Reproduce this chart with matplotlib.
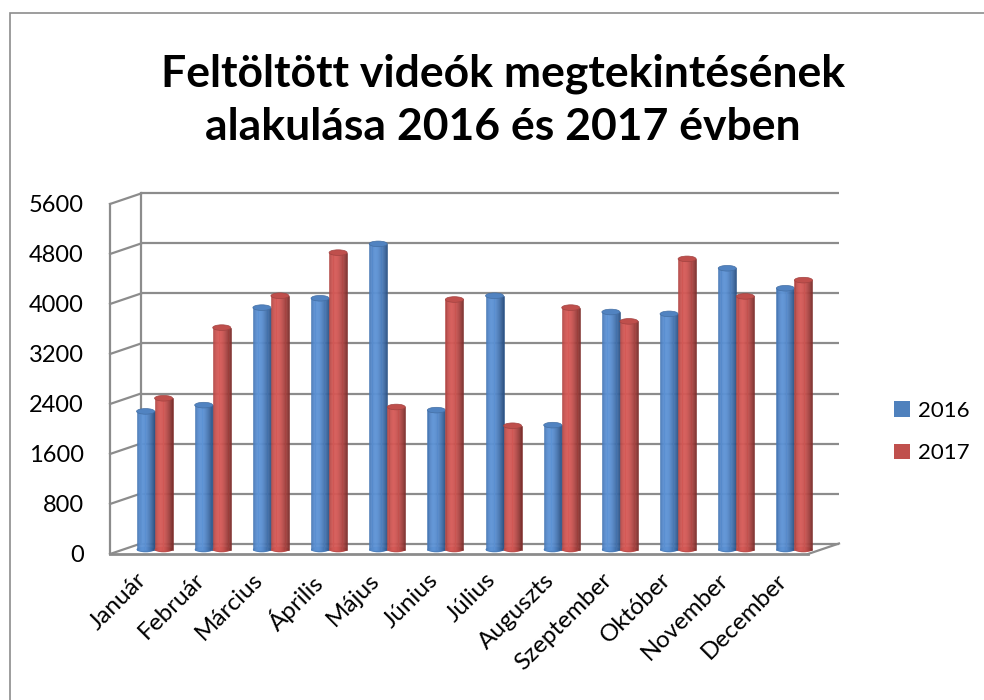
import numpy as np
import matplotlib.pyplot as plt
from matplotlib.patches import Ellipse, Rectangle, Patch
from matplotlib.lines import Line2D
from matplotlib.transforms import ScaledTranslation, IdentityTransform
import matplotlib.colors as mcolors

plt.rcParams['font.family'] = ['Lato', 'DejaVu Sans']

months = ['Január', 'Február', 'Március', 'Április', 'Május', 'Június',
          'Július', 'Auguszts', 'Szeptember', 'Október', 'November', 'December']
y2016 = [2210, 2310, 3870, 4020, 4890, 2230, 4060, 1990, 3800, 3770, 4500, 4180]
y2017 = [2420, 3550, 4060, 4750, 2280, 4000, 1980, 3870, 3650, 4650, 4050, 4310]
series = ['2016', '2017']
yticks = np.arange(0, 5601, 800)

base_cols = ['#4F81BD', '#C0504D']
light_cols = ['#5d93d6', '#d65a57']
dark_cols = ['#2b5183', '#7a2e2c']

fig = plt.figure(figsize=(9.84, 7), dpi=100)
ax = fig.add_axes([110/984, 146/700, 698/984, 350/700])
ax.set_xlim(-0.5, 11.5)
ax.set_ylim(0, 5600)
for s in ax.spines.values():
    s.set_visible(False)
ax.set_yticks(yticks)
ax.set_yticklabels([str(v) for v in yticks])
ax.set_xticks(range(len(months)))
ax.set_xticklabels(months, rotation=45, ha='right', va='top', rotation_mode='anchor')
ax.tick_params(length=0)
ax.tick_params(axis='y', pad=19, labelsize=17)
ax.tick_params(axis='x', pad=11, labelsize=17.5)
for lab in ax.get_xticklabels():
    lab.set_transform(lab.get_transform() + ScaledTranslation(-0.03, 0, fig.dpi_scale_trans))

# fake 3d: back wall and bar plane offsets
back = ax.transData + ScaledTranslation(0.31, 0.105, fig.dpi_scale_trans)
mid = ax.transData + ScaledTranslation(0.155, 0.045, fig.dpi_scale_trans)

grid_c = '#8c8c8c'
def diag(pt):
    p0 = ax.transData.transform(pt)
    p1 = back.transform(pt)
    ax.add_line(Line2D([p0[0], p1[0]], [p0[1], p1[1]], color=grid_c, lw=1.6,
                       transform=IdentityTransform(), clip_on=False, zorder=1))

for v in yticks:
    ax.plot([-0.5, 11.5], [v, v], color=grid_c, lw=1.6, transform=back,
            zorder=1, clip_on=False, solid_capstyle='butt')
    diag((-0.5, v))
ax.plot([-0.5, -0.5], [0, 5600], color=grid_c, lw=1.6, transform=back, zorder=1, clip_on=False)
ax.plot([-0.5, -0.5], [0, 5600], color=grid_c, lw=1.6, zorder=1, clip_on=False)
ax.plot([-0.5, 11.5], [0, 0], color=grid_c, lw=2, zorder=1, clip_on=False)
diag((11.5, 0))

# cylinders
w = 0.31
n = 16
x = np.arange(len(months))
for j, vals in enumerate([y2016, y2017]):
    z = 3 + j
    left = x + (j - 1) * w
    light = np.array(mcolors.to_rgb(light_cols[j]))
    dark = np.array(mcolors.to_rgb(dark_cols[j]))
    for xc, v in zip(left + w / 2, vals):
        ax.add_patch(Ellipse((xc, 0), w, 90, facecolor=base_cols[j], lw=0,
                             transform=mid, zorder=z - 0.1, clip_on=False))
    for k in range(n):
        t = (k + 0.5) / n
        if t < 0.35:
            wt = 1 - 0.45 * ((0.35 - t) / 0.35) ** 2
        else:
            wt = 1 - ((t - 0.35) / 0.65) ** 1.6
        c = dark + (light - dark) * wt
        ax.bar(left + (k + 0.5) * w / n, vals, width=w / n, color=c, edgecolor=c,
               lw=0.4, transform=mid, zorder=z, clip_on=False)
    for xc, v in zip(left + w / 2, vals):
        top = dark + (light - dark) * 0.75
        ax.add_patch(Ellipse((xc, v), w, 90, facecolor=top, edgecolor=top * 0.85, lw=0.5,
                             transform=mid, zorder=z + 0.5, clip_on=False))

handles = [Patch(facecolor=c) for c in base_cols]
fig.legend(handles, series, loc='center left', bbox_to_anchor=(894/984, 1 - 432/700),
           frameon=False, fontsize=16, handlelength=0.7, handleheight=0.7,
           handletextpad=0.4, labelspacing=1.0, borderpad=0, borderaxespad=0)

fig.text(503/984, 1 - 87/700, 'Feltöltött videók megtekintésének', ha='center',
         va='baseline', fontsize=32, fontweight='bold')
fig.text(503/984, 1 - 140/700, 'alakulása 2016 és 2017 évben', ha='center',
         va='baseline', fontsize=32, fontweight='bold')

fig.add_artist(Rectangle((10/984, -0.05), 1.2, 1 - 13/700 + 0.05, transform=fig.transFigure,
                         fill=False, edgecolor='#8c8c8c', lw=1.2))

fig.savefig('out.png', dpi=100)
